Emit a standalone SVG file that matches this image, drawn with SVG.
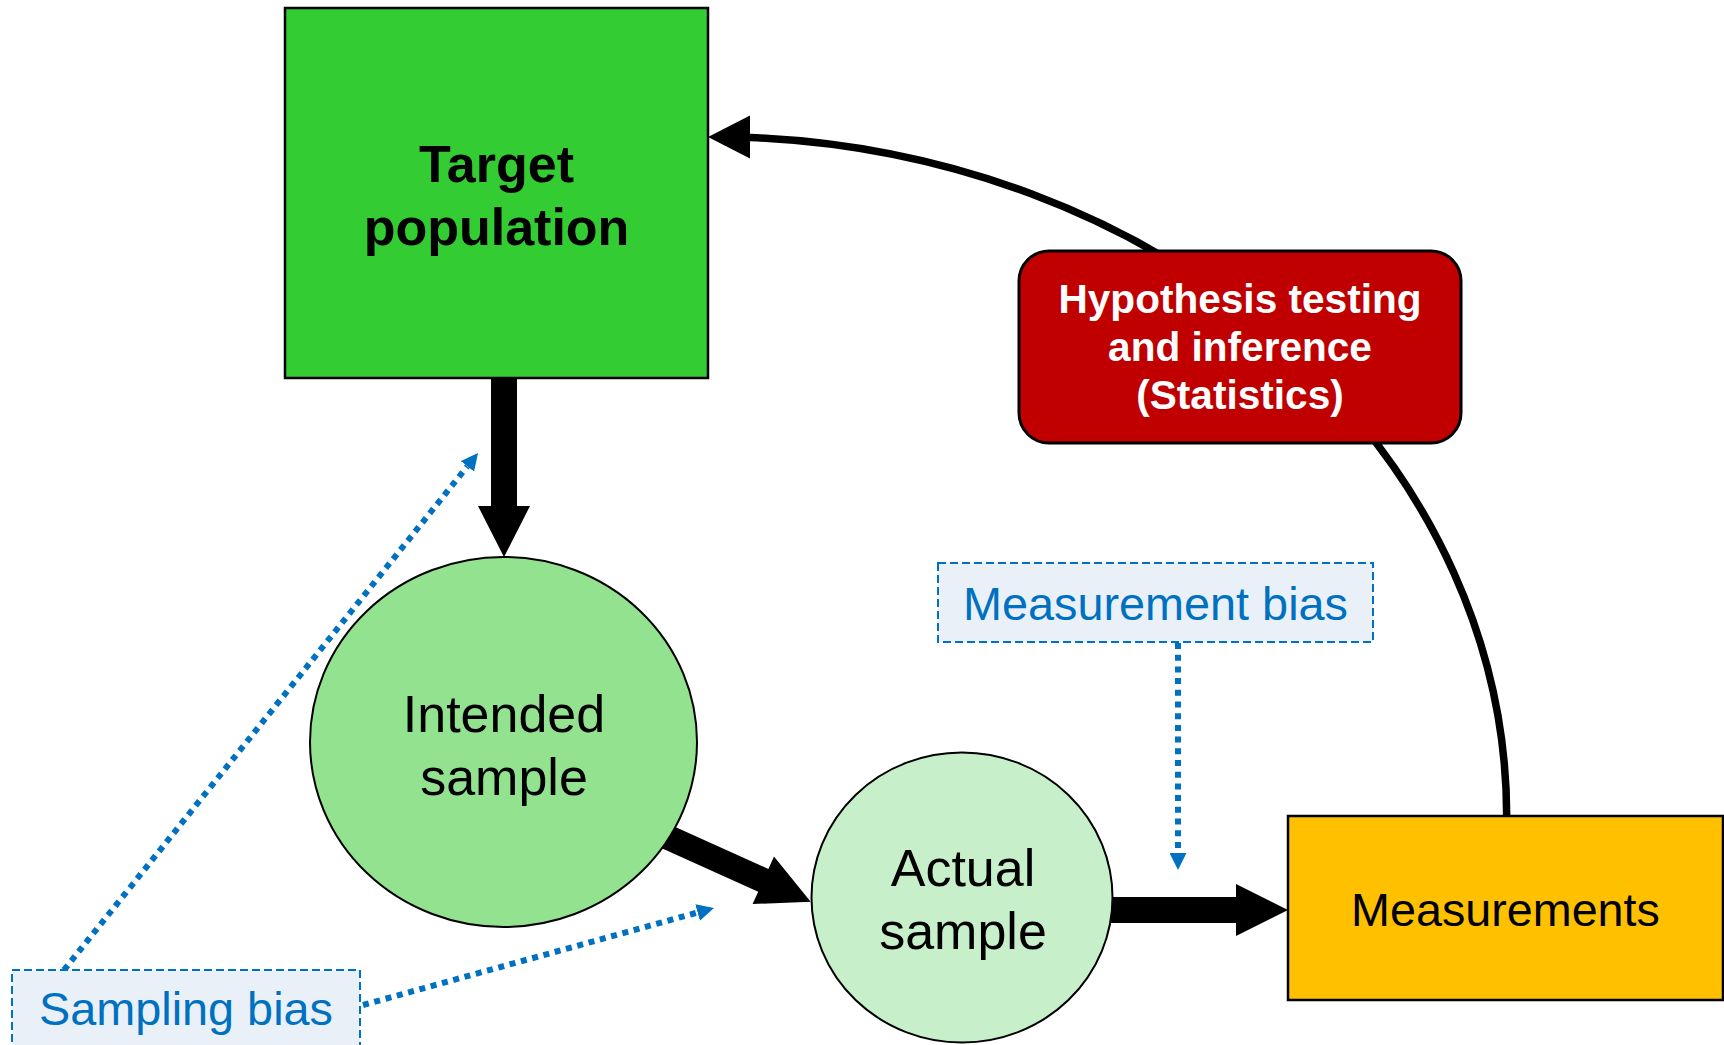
<svg xmlns="http://www.w3.org/2000/svg" width="1724" height="1045" viewBox="0 0 1724 1045">
<style>
text{font-family:"Liberation Sans",Arial,sans-serif;text-anchor:middle}
.b{font-weight:bold}
.node{stroke:#000;stroke-width:2.5}
.circ{stroke:#000;stroke-width:2}
.bias{fill:#EAF0F8;stroke:#0070C0;stroke-width:2;stroke-dasharray:8 4}
.blue{fill:#0070C0;font-size:46.8px}
.dot{fill:none;stroke:#0070C0;stroke-width:6;stroke-dasharray:6 5.7}
.thick{fill:#000}
.curve{fill:none;stroke:#000;stroke-width:7.5}
</style>
<defs>
<marker id="bh" viewBox="0 0 10 10" refX="0" refY="5" markerWidth="17" markerHeight="17" markerUnits="userSpaceOnUse" orient="auto">
<path d="M0,0 L10,5 L0,10 z" fill="#0070C0"/>
</marker>
</defs>
<rect width="1724" height="1045" fill="#fff"/>
<g id="connectors">
<path class="curve" d="M1506.7,816.7 A794,680 0 0 0 750,137.5"/>
<polygon class="thick" points="708,137 750,115.5 750,158.5"/>
<polygon class="thick" points="491,376 517,376 517,506 530,506 504,557 478,506 491,506"/>
<polygon class="thick" points="639.6,838.3 649.8,815.5 768.4,868.9 774,856.6 810.7,901.7 752.6,904 758.2,891.7"/>
<polygon class="thick" points="1100,897 1236,897 1236,884 1288,910 1236,936 1236,923 1100,923"/>
<line class="dot" x1="1178" y1="643" x2="1178" y2="853" marker-end="url(#bh)"/>
<line class="dot" x1="64" y1="970" x2="467.4" y2="466.3" marker-end="url(#bh)"/>
<line class="dot" x1="363" y1="1005" x2="697.6" y2="912.5" marker-end="url(#bh)"/>
</g>
<g id="target-population">
<rect class="node" x="285" y="8" width="423" height="370" fill="#33CC33"/>
<text class="b" x="496.5" y="182" font-size="52">Target</text>
<text class="b" x="496.5" y="244.5" font-size="52">population</text>
</g>
<g id="intended-sample">
<ellipse class="circ" cx="503.5" cy="742" rx="193.5" ry="185" fill="#92E28F"/>
<text x="504" y="732" font-size="52">Intended</text>
<text x="504" y="794.5" font-size="52">sample</text>
</g>
<g id="actual-sample">
<ellipse class="circ" cx="962" cy="897.5" rx="150.5" ry="145" fill="#C7F0CA"/>
<text x="963" y="886" font-size="52">Actual</text>
<text x="963" y="948.5" font-size="52">sample</text>
</g>
<g id="measurements">
<rect class="node" x="1288" y="816" width="435" height="184" fill="#FFC000"/>
<text x="1505.5" y="926" font-size="46.7">Measurements</text>
</g>
<g id="hypothesis">
<rect x="1019" y="251" width="442" height="192" rx="30" ry="30" fill="#C00000" stroke="#000" stroke-width="3"/>
<text class="b" x="1240" y="313" font-size="40.6" fill="#fff">Hypothesis testing</text>
<text class="b" x="1240" y="361" font-size="40.6" fill="#fff">and inference</text>
<text class="b" x="1240" y="409" font-size="40.6" fill="#fff">(Statistics)</text>
</g>
<g id="measurement-bias">
<rect class="bias" x="938" y="563" width="435" height="79"/>
<text class="blue" x="1155.5" y="620">Measurement bias</text>
</g>
<g id="sampling-bias">
<rect class="bias" x="12" y="970" width="348" height="90"/>
<text class="blue" x="186" y="1025">Sampling bias</text>
</g>
</svg>
